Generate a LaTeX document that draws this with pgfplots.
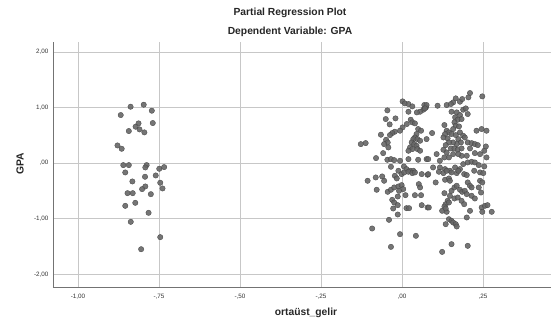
\documentclass[border=0pt]{standalone}
\usepackage{pgfplots}
\pgfplotsset{compat=1.18}
\usepackage{fontspec}
\setmainfont{Liberation Sans}
\pgfplotstableread{
x y
-0.8375 1.015
-0.797 1.051
-0.772 0.943
-0.868 0.865
-0.813 0.715
-0.822 0.655
-0.810 0.607
-0.795 0.553
-0.843 0.577
-0.769 0.721
-0.878 0.318
-0.865 0.258
-0.860 -0.036
-0.843 -0.036
-0.788 -0.036
-0.792 -0.078
-0.854 -0.168
-0.749 -0.102
-0.734 -0.072
-0.760 -0.222
-0.793 -0.246
-0.832 -0.330
-0.746 -0.354
-0.739 -0.456
-0.792 -0.420
-0.802 -0.468
-0.847 -0.541
-0.831 -0.541
-0.775 -0.559
-0.823 -0.715
-0.854 -0.769
-0.782 -0.895
-0.837 -1.057
-0.746 -1.333
-0.805 -1.550
}\leftdata
\pgfplotstableread{
x y
0.002 1.111
0.009 1.075
0.020 1.063
0.032 1.021
0.069 1.045
0.074 1.003
0.066 0.961
0.056 0.925
0.046 0.913
0.020 0.925
-0.045 0.949
-0.050 0.793
-0.020 0.805
-0.038 0.697
0.027 0.781
0.032 0.733
0.040 0.715
0.015 0.703
0.002 0.643
-0.006 0.583
-0.022 0.565
-0.030 0.541
-0.037 0.505
-0.065 0.511
0.050 0.613
0.059 0.583
0.045 0.523
0.040 0.462
0.035 0.432
0.048 0.432
0.056 0.402
0.030 0.372
0.038 0.342
0.045 0.312
0.025 0.282
0.032 0.252
0.048 0.252
0.056 0.222
0.020 0.222
-0.049 0.420
-0.044 0.372
-0.055 0.342
-0.127 0.342
-0.112 0.360
-0.042 0.282
-0.058 0.180
-0.080 0.090
-0.045 0.060
-0.034 0.072
-0.024 0.054
-0.006 0.042
0.020 0.072
0.076 0.072
0.050 0.060
-0.034 -0.066
0.006 -0.060
0.014 -0.108
0.025 -0.138
-0.011 -0.138
0.035 -0.138
-0.106 -0.318
-0.081 -0.258
-0.061 -0.240
-0.055 -0.318
-0.022 -0.228
-0.016 -0.276
-0.001 -0.198
0.007 -0.168
0.020 -0.156
0.032 -0.180
0.040 -0.168
0.061 -0.198
0.079 -0.210
0.052 -0.378
0.056 -0.438
-0.078 -0.480
-0.044 -0.517
-0.034 -0.480
-0.024 -0.438
-0.011 -0.420
-0.001 -0.396
0.004 -0.468
-0.009 -0.499
-0.013 -0.601
-0.030 -0.661
-0.024 -0.709
-0.013 -0.757
-0.027 -0.817
0.011 -0.577
0.040 -0.577
0.059 -0.577
0.061 -0.757
0.079 -0.799
0.014 -0.811
0.022 -0.811
-0.013 -0.925
-0.040 -1.021
-0.092 -1.177
-0.006 -1.279
0.043 -1.309
-0.034 -1.508
0.210 1.261
0.205 1.183
0.248 1.201
0.166 1.165
0.158 1.093
0.179 1.105
0.186 1.153
0.138 1.045
0.151 1.063
0.110 1.033
0.076 1.045
0.071 0.985
0.153 0.925
0.169 0.913
0.179 0.865
0.189 0.961
0.197 0.985
0.203 0.883
0.164 0.823
0.172 0.781
0.184 0.793
0.162 0.733
0.166 0.673
0.176 0.661
0.158 0.613
0.131 0.685
0.138 0.583
0.145 0.553
0.133 0.523
0.128 0.462
0.141 0.444
0.153 0.523
0.166 0.505
0.179 0.553
0.189 0.492
0.194 0.462
0.174 0.432
0.182 0.372
0.169 0.342
0.158 0.372
0.145 0.372
0.135 0.324
0.128 0.240
0.138 0.192
0.151 0.264
0.162 0.264
0.172 0.240
0.184 0.264
0.203 0.372
0.215 0.360
0.225 0.342
0.234 0.324
0.210 0.264
0.225 0.180
0.241 0.162
0.254 0.222
0.261 0.102
0.246 0.613
0.230 0.583
0.261 0.583
0.093 0.541
0.076 0.432
0.107 0.162
0.117 0.042
0.081 0.072
0.096 -0.078
0.117 -0.078
0.133 -0.108
0.148 -0.138
0.164 -0.078
0.179 -0.108
0.189 -0.018
0.203 0.012
0.215 0.024
0.200 0.132
0.184 0.132
0.174 0.162
0.158 0.162
0.145 0.102
0.131 0.102
0.225 0.012
0.237 -0.036
0.254 -0.060
0.223 -0.138
0.259 0.300
0.081 -0.198
0.104 -0.348
0.114 -0.156
0.128 -0.180
0.138 -0.138
0.153 -0.168
0.169 -0.180
0.174 -0.138
0.192 -0.198
0.200 -0.216
0.241 -0.168
0.251 -0.180
0.133 -0.300
0.145 -0.276
0.148 -0.318
0.241 -0.318
0.248 -0.348
0.203 -0.348
0.210 -0.408
0.215 -0.438
0.237 -0.438
0.244 -0.529
0.131 -0.541
0.153 -0.499
0.162 -0.438
0.169 -0.408
0.179 -0.480
0.186 -0.517
0.194 -0.499
0.200 -0.559
0.215 -0.589
0.225 -0.637
0.148 -0.589
0.162 -0.637
0.172 -0.619
0.184 -0.679
0.192 -0.739
0.141 -0.679
0.135 -0.739
0.145 -0.709
0.131 -0.781
0.124 -0.859
0.138 -0.877
0.135 -0.817
0.083 -0.799
0.210 -0.859
0.246 -0.799
0.256 -0.769
0.264 -0.757
0.277 -0.877
0.248 -0.877
0.200 -0.979
0.145 -1.009
0.153 -1.039
0.158 -1.069
0.166 -1.099
0.169 -1.141
0.135 -1.099
0.153 -1.459
0.203 -1.489
0.124 -1.598
}\rightdata
\begin{document}
\begin{tikzpicture}
\useasboundingbox (0,0) rectangle (552pt,326pt);
\begin{axis}[
  at={(53pt,39pt)}, anchor=south west,
  scale only axis, width=498pt, height=245pt,
  xmin=-1.077, xmax=0.46, ymin=-2.23, ymax=2.18,
  xtick={-1,-0.75,-0.5,-0.25,0,0.25},
  xticklabels={{-1,00},{-,75},{-,50},{-,25},{,00},{,25}},
  ytick={-2,-1,0,1,2},
  yticklabels={{-2,00},{-1,00},{,00},{1,00},{2,00}},
  tick label style={font=\fontsize{6.3}{7}\selectfont, text=black!80},
  major tick length=0pt,
  xticklabel style={yshift=-4pt},
  yticklabel style={xshift=-1pt},
  axis x line*=bottom, axis y line*=left,
  axis line style={-, black!55, line width=0.7pt},
  grid=major, grid style={black!22, line width=0.5pt},
  clip=false,
]
\addplot[only marks, mark=*, mark size=2.7pt,
  mark options={fill=black!60, draw=black!72, line width=0.35pt, fill opacity=0.9}]
  table[x=x,y=y] {\leftdata};
\addplot[only marks, mark=*, mark size=2.7pt,
  mark options={fill=black!60, draw=black!72, line width=0.35pt, fill opacity=0.9}]
  table[x=x,y=y] {\rightdata};
\end{axis}
\node[font=\bfseries\fontsize{10.3}{12}\selectfont, text=black!85] at (290pt,313pt) {Partial Regression Plot};
\node[font=\bfseries\fontsize{10.3}{12}\selectfont, text=black!85] at (290pt,294pt) {Dependent Variable: GPA};
\node[font=\bfseries\fontsize{10.3}{12}\selectfont, text=black!85, rotate=90] at (20pt,162pt) {GPA};
\node[font=\bfseries\fontsize{10.3}{12}\selectfont, text=black!85] at (306pt,13pt) {ortaüst\_gelir};
\end{tikzpicture}
\end{document}
